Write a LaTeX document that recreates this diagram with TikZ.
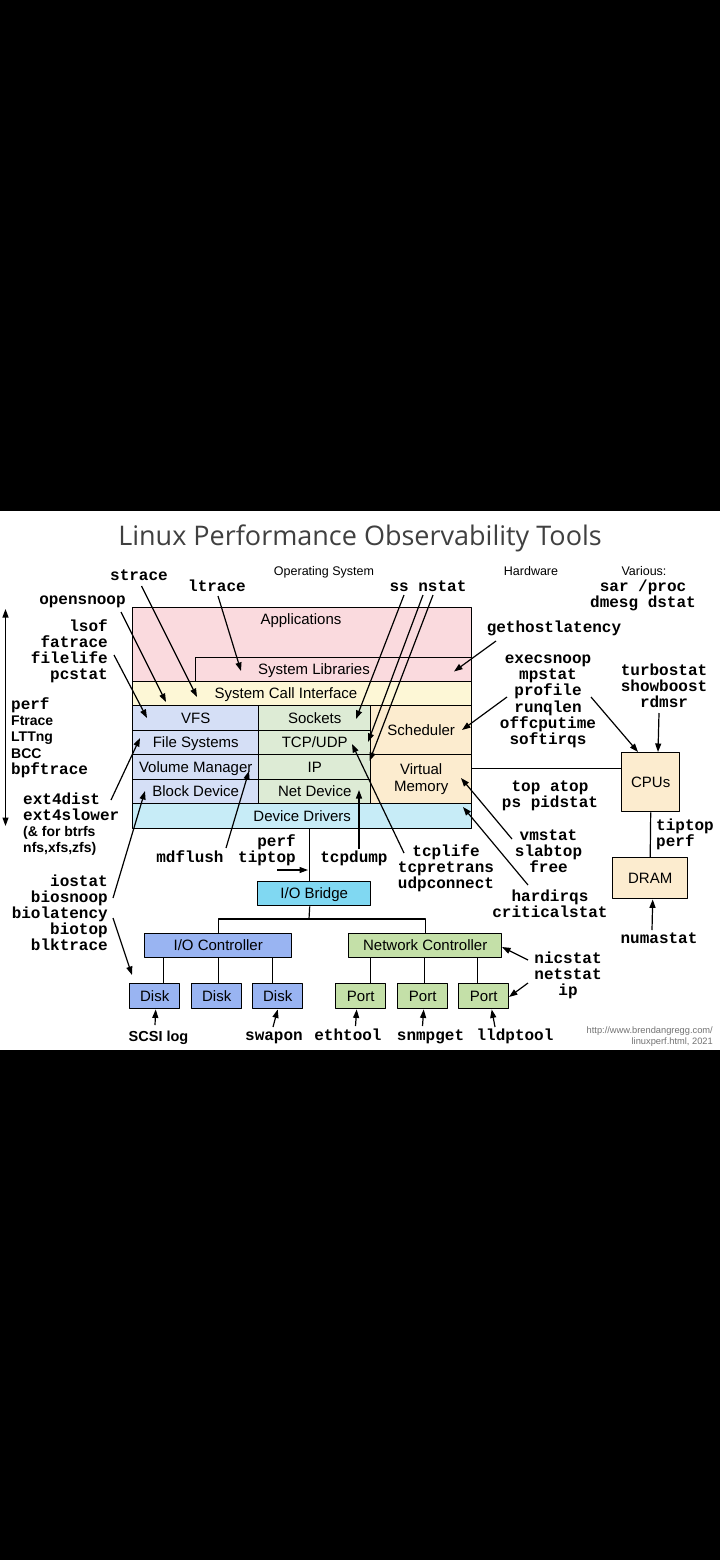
\documentclass[tikz,border=0pt]{standalone}
\usepackage{fontspec}
\setmainfont{Liberation Sans}
\newfontfamily\cmdmono{Liberation Mono}
\newfontfamily\titlesans{Open Sans}
\newcommand\sansb{\normalfont\bfseries\fontsize{14}{16.2}\selectfont}
\usetikzlibrary{arrows.meta}

\definecolor{appspink}{RGB}{250,218,222}
\definecolor{sysyellow}{RGB}{253,247,214}
\definecolor{vfsblue}{RGB}{213,223,246}
\definecolor{netgreen}{RGB}{221,235,213}
\definecolor{schedtan}{RGB}{252,236,207}
\definecolor{drvcyan}{RGB}{199,236,247}
\definecolor{bridgecyan}{RGB}{128,216,242}
\definecolor{ctlblue}{RGB}{153,180,242}
\definecolor{ctlgreen}{RGB}{196,224,168}

\begin{document}
\begin{tikzpicture}[x=1pt,y=-1pt,line join=round,>={Triangle[length=8.5pt,width=6pt]},
	box/.style={draw,line width=1.4pt,inner sep=0pt,anchor=north west,font=\fontsize{15}{17}\selectfont,text height=10.5pt,text depth=0pt},
	lbl/.style={inner sep=0pt,font=\fontsize{15}{17}\selectfont,text height=10.5pt,text depth=0pt},
	cmd/.style={inner sep=0pt,anchor=base,align=center,font=\cmdmono\bfseries\fontsize{16}{16.2}\selectfont},
	hdr/.style={inner sep=0pt,anchor=base,font=\fontsize{12.5}{15}\selectfont},
	arr/.style={->,line width=1.2pt},
	link/.style={line width=1.2pt}]
	\useasboundingbox (0,0) rectangle (720,1560);
	\fill[black] (0,0) rectangle (720,1560);
	\fill[white] (0,511) rectangle (720,1050);

	\node[anchor=base,inner sep=0pt,font=\titlesans\fontsize{27}{32}\selectfont,color=black!75] (title) at (360,545) {Linux Performance Observability Tools};
	\node[hdr] (ossys) at (324,575.5) {Operating System};
	\node[hdr] (hw) at (531,575.5) {Hardware};
	\node[hdr] (various) at (644,575.5) {Various:};
	\node[cmd] (sarproc) at (643,607.2) {sar /proc\\dmesg dstat};

	% operating system stack
	\node[box,fill=appspink,minimum width=339pt,minimum height=74pt] (apps) at (132,607) {};
	\node[box,fill=appspink,minimum width=276pt,minimum height=24pt] (syslib) at (195,657) {};
	\node[box,fill=sysyellow,minimum width=339pt,minimum height=24pt] (syscall) at (132,681) {};
	\node[lbl] (appstxt) at (301,619) {Applications};
	\node[lbl] (syslibtxt) at (314,669) {System Libraries};
	\node[lbl] (syscalltxt) at (286,693.5) {System Call Interface};
	\node[box,fill=vfsblue,minimum width=126pt,minimum height=24.5pt] (vfs) at (132,705) {VFS};
	\node[box,fill=vfsblue,minimum width=126pt,minimum height=24.5pt] (fs) at (132,729.5) {File Systems};
	\node[box,fill=vfsblue,minimum width=126pt,minimum height=24.5pt] (volmgr) at (132,754) {Volume Manager};
	\node[box,fill=vfsblue,minimum width=126pt,minimum height=24.5pt] (blockdev) at (132,778.5) {Block Device};
	\node[box,fill=netgreen,minimum width=112pt,minimum height=24.5pt] (sockets) at (258,705) {Sockets};
	\node[box,fill=netgreen,minimum width=112pt,minimum height=24.5pt] (tcpudp) at (258,729.5) {TCP/UDP};
	\node[box,fill=netgreen,minimum width=112pt,minimum height=24.5pt] (ipl) at (258,754) {IP};
	\node[box,fill=netgreen,minimum width=112pt,minimum height=24.5pt] (netdev) at (258,778.5) {Net Device};
	\node[box,fill=schedtan,minimum width=101pt,minimum height=49pt] (sched) at (370,705) {Scheduler};
	\node[box,fill=schedtan,minimum width=101pt,minimum height=49pt,align=center,text height=,text depth=] (vm) at (370,754) {Virtual\\Memory};
	\node[box,fill=drvcyan,minimum width=339pt,minimum height=25pt] (drivers) at (132,803) {Device Drivers};

	% hardware
	\node[box,fill=schedtan,minimum width=58pt,minimum height=59pt] (cpus) at (621,752) {CPUs};
	\node[box,fill=schedtan,minimum width=75pt,minimum height=41pt] (dram) at (612,857) {DRAM};
	\node[box,fill=bridgecyan,minimum width=113pt,minimum height=24pt] (bridge) at (257,881) {I/O Bridge};
	\node[box,fill=ctlblue,minimum width=147pt,minimum height=24pt] (ioctl) at (144,933) {I/O Controller};
	\node[box,fill=ctlgreen,minimum width=153pt,minimum height=24pt] (netctl) at (348,933) {Network Controller};
	\foreach \i/\x in {1/129,2/191,3/252}
		\node[box,fill=ctlblue,minimum width=50pt,minimum height=25pt] (disk\i) at (\x,983) {Disk};
	\foreach \i/\x in {1/335,2/397,3/458}
		\node[box,fill=ctlgreen,minimum width=50pt,minimum height=25pt] (port\i) at (\x,983) {Port};

	\draw[link] ([shift={(0,-10.5)}]vm.east) -- ([shift={(0,-13.5)}]cpus.west);
	\draw[link] (cpus.south) -- (dram.north);
	\draw[link] ([shift={(7.5,0)}]drivers.south) -- ([shift={(-4.5,0)}]bridge.north);
	\coordinate (iobus) at (309,919);
	\draw[link] ([shift={(-4.5,0)}]bridge.south) -- (iobus);
	\draw[link] (ioctl.north) |- (iobus) -| (netctl.north);
	\foreach \i/\dx in {1/9,2/2,3/-5}
		\draw[link] ([xshift=\dx pt]disk\i.north) -- ++(0,-26);
	\foreach \i/\dx in {1/9.5,2/2,3/-6}
		\draw[link] ([xshift=\dx pt]port\i.north) -- ++(0,-26);

	% tools
	\coordinate (spantop) at (5.5,609);
	\coordinate (spanbot) at (5.5,826);
	\draw[<->,line width=1.2pt] (spantop) -- (spanbot);
	\node[cmd,anchor=base west,align=left] (tracers) at (11,774.3) {perf\\{\sansb Ftrace}\\{\sansb LTTng}\\{\sansb BCC}\\bpftrace};
	\node[cmd] (strace) at (139,580.5) {strace};
	\node[cmd] (ltrace) at (217,591) {ltrace};
	\node[cmd] (opensnoop) at (82.5,604) {opensnoop};
	\node[cmd,anchor=base east,align=right] (lsof) at (108,679.6) {lsof\\fatrace\\filelife\\pcstat};
	\node[cmd] (ssnstat) at (428,591) {ss nstat};
	\node[cmd] (gethost) at (554,632.5) {gethostlatency};
	\node[cmd] (execsnoop) at (548,744.5) {execsnoop\\mpstat\\profile\\runqlen\\offcputime\\softirqs};
	\node[cmd] (turbostat) at (664,707.4) {turbostat\\showboost\\rdmsr};
	\node[cmd] (topatop) at (550,807.2) {top atop\\ps pidstat};
	\node[cmd] (vmstat) at (548.5,872.4) {vmstat\\slabtop\\free};
	\node[cmd] (hardirqs) at (550,917.2) {hardirqs\\criticalstat};
	\node[cmd] (tcplife) at (446,888.9) {tcplife\\tcpretrans\\udpconnect};
	\node[cmd] (tcpdump) at (354,862.5) {tcpdump};
	\node[cmd] (mdflush) at (190,862.5) {mdflush};
	\node[cmd,anchor=base east,align=right] (perftiptop) at (296,862.2) {perf\\tiptop};
	\node[cmd,anchor=base west,align=left] (ext4) at (23,852.6) {ext4dist\\ext4slower\\{\sansb (\& for btrfs}\\{\sansb nfs,xfs,zfs)}};
	\node[cmd,anchor=base east,align=right] (iostat) at (108,950.8) {iostat\\biosnoop\\biolatency\\biotop\\blktrace};
	\node[inner sep=0pt,anchor=base,font=\bfseries\fontsize{14.5}{16}\selectfont] (scsilog) at (158.5,1041) {SCSI log};
	\node[cmd] (swapon) at (274,1040.5) {swapon};
	\node[cmd] (ethtool) at (348,1040.5) {ethtool};
	\node[cmd] (snmpget) at (430.5,1040.5) {snmpget};
	\node[cmd] (lldptool) at (515,1040.5) {lldptool};
	\node[cmd] (nicstat) at (568,995.9) {nicstat\\netstat\\ip};
	\node[cmd] (numastat) at (659,943.5) {numastat};
	\node[cmd,anchor=base west,align=left] (tiptopperf) at (656,846.2) {tiptop\\perf};
	\node[inner sep=0pt,anchor=base east,align=right,font=\fontsize{9.3}{11}\selectfont,color=black!55] (credit) at (713,1044.5) {http://www.brendangregg.com/\\linuxperf.html, 2021};

	\draw[arr] ([shift={(2.5,5.5)}]strace.base) -- ([shift={(65,16)}]syscall.north west);
	\draw[arr] ([shift={(1,5)}]ltrace.base) -- ([shift={(46,14)}]syslib.north west);
	\draw[arr] ([shift={(38.5,8)}]opensnoop.base) -- ([shift={(34,21)}]syscall.north west);
	\draw[arr] ([shift={(6,-24.6)}]lsof.base east) -- ([shift={(15,13)}]vfs.north west);
	\draw[arr] ([shift={(-24,4)}]ssnstat.base) -- ([shift={(98,14)}]sockets.north west);
	\draw[arr] ([shift={(-5,4)}]ssnstat.base) -- ([shift={(110,12.5)}]tcpudp.north west);
	\draw[arr] ([shift={(5,4)}]ssnstat.base) -- ([shift={(111.5,7)}]ipl.north west);
	\draw[arr] ([shift={(-58,8.5)}]gethost.base) -- ([shift={(259,14.5)}]syslib.north west);
	\draw[arr] ([shift={(-41,-47.5)}]execsnoop.base) -- ([shift={(92,25)}]sched.north west);
	\draw[arr] ([shift={(43,-47.5)}]execsnoop.base) -- ([shift={(17,0)}]cpus.north west);
	\draw[arr] ([shift={(-5,5.6)}]turbostat.base) -- ([shift={(37,0)}]cpus.north west);
	\draw[arr] ([shift={(-36.5,-33.4)}]vmstat.base) -- ([shift={(91,24)}]vm.north west);
	\draw[arr] ([shift={(-22,-32.2)}]hardirqs.base) -- ([shift={(331,4)}]drivers.north west);
	\draw[arr] ([shift={(-42,-35.9)}]tcplife.base) -- ([shift={(94,14.5)}]tcpudp.north west);
	\draw[arr] ([shift={(5,-13.5)}]tcpdump.base) -- ([shift={(101,11.5)}]netdev.north west);
	\draw[arr] ([shift={(36,-14.5)}]mdflush.base) -- ([shift={(117,17)}]volmgr.north west);
	\draw[arr] ([shift={(-19,7.8)}]perftiptop.base east) -- ([shift={(51,-11)}]bridge.north west);
	\draw[arr] ([shift={(88,-52.6)}]ext4.base west) -- ([shift={(8,8.5)}]fs.north west);
	\draw[arr] ([shift={(5,-52.8)}]iostat.base east) -- ([shift={(13,12.5)}]blockdev.north west);
	\draw[arr] ([shift={(5,-32.8)}]iostat.base east) -- ([shift={(3,-8)}]disk1.north west);
	\draw[arr] ([shift={(-3.5,-16)}]scsilog.base) -- ([shift={(1,0)}]disk1.south);
	\draw[arr] ([shift={(-1,-13.5)}]swapon.base) -- (disk3.south);
	\draw[arr] ([shift={(7.5,-14.5)}]ethtool.base) -- ([shift={(-4,0)}]port1.south);
	\draw[arr] ([shift={(-8,-14.5)}]snmpget.base) -- ([shift={(1,0)}]port2.south);
	\draw[arr] ([shift={(-20,-13.5)}]lldptool.base) -- ([shift={(8,0)}]port3.south);
	\draw[arr] ([shift={(-40,-35.9)}]nicstat.base) -- ([shift={(154,14)}]netctl.north west);
	\draw[arr] ([shift={(-40,-12.9)}]nicstat.base) -- ([shift={(51,14)}]port3.north west);
	\draw[arr] ([shift={(-7,-13.5)}]numastat.base) -- ([shift={(2.5,0)}]dram.south);
\end{tikzpicture}
\end{document}
